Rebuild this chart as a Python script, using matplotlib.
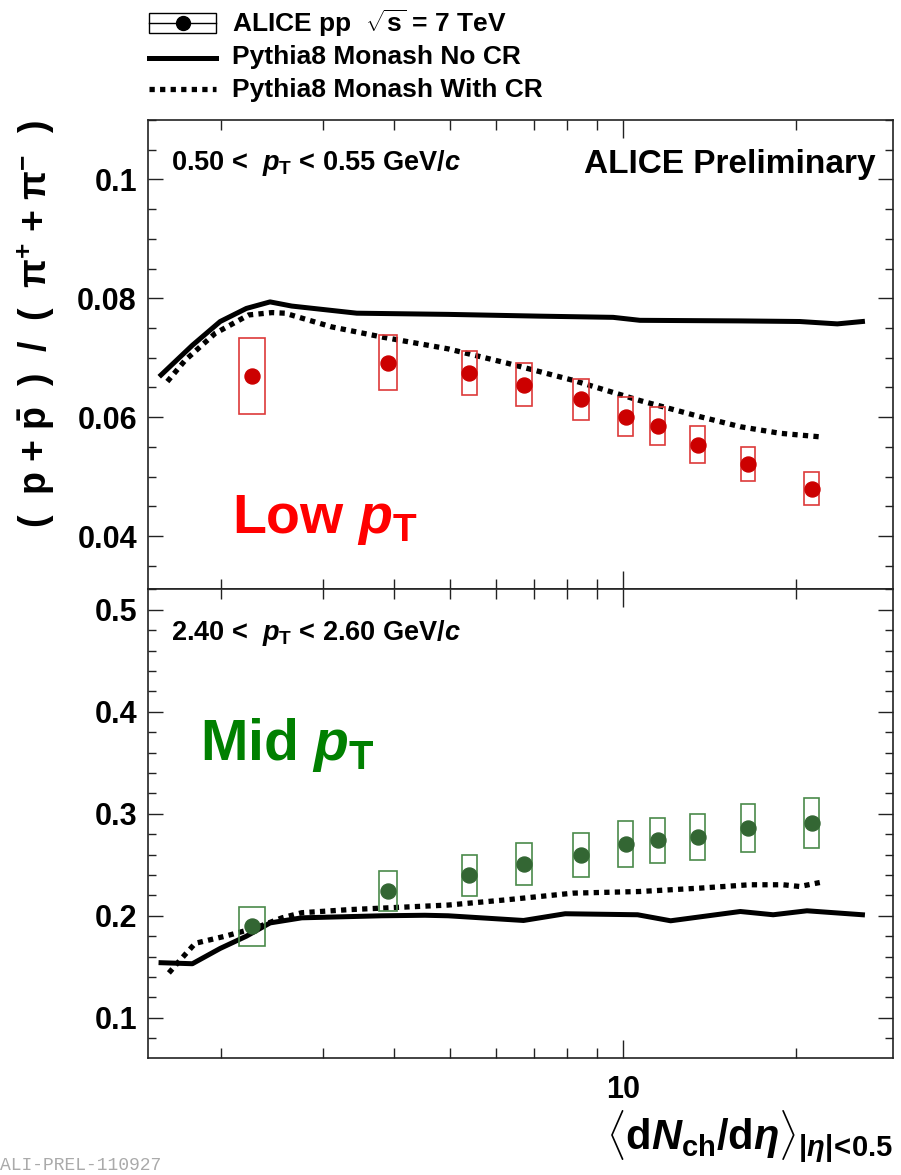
import numpy as np
import matplotlib
matplotlib.use("Agg")
import matplotlib.pyplot as plt
from matplotlib.patches import Rectangle
from matplotlib.lines import Line2D
from matplotlib.ticker import FixedLocator, FixedFormatter, LogLocator, NullFormatter, MultipleLocator

# === fonts (ROOT-like bold Helvetica) ===
plt.rcParams['font.family'] = ['Liberation Sans', 'DejaVu Sans']
plt.rcParams['font.weight'] = 'bold'
plt.rcParams['mathtext.fontset'] = 'custom'
plt.rcParams['mathtext.rm'] = 'Liberation Sans:bold'
plt.rcParams['mathtext.bf'] = 'Liberation Sans:bold'
plt.rcParams['mathtext.sf'] = 'Liberation Sans:bold'
plt.rcParams['mathtext.it'] = 'Liberation Sans:italic:bold'

# === data ===
mult = [2.26, 3.90, 5.40, 6.72, 8.45, 10.1, 11.5, 13.5, 16.5, 21.3]

low_ratio = [0.0670, 0.0692, 0.0675, 0.0655, 0.0630, 0.0601, 0.0586, 0.0554, 0.0521, 0.0480]
low_sys = [0.0064, 0.0046, 0.0037, 0.0036, 0.0035, 0.0033, 0.0032, 0.0031, 0.0029, 0.0027]

mid_ratio = [0.1895, 0.2245, 0.2395, 0.2506, 0.2597, 0.2702, 0.2738, 0.2771, 0.2862, 0.2914]
mid_sys = [0.0193, 0.0196, 0.0203, 0.0205, 0.0215, 0.0223, 0.0225, 0.0227, 0.0237, 0.0245]

# Pythia8 Monash, low pT
low_nocr_x = [1.57, 1.78, 1.99, 2.21, 2.43, 2.65, 3.44, 4.96, 7.17, 9.61, 10.7, 16.0, 20.3, 23.6, 26.1]
low_nocr_y = [0.0671, 0.0721, 0.0761, 0.0783, 0.0794, 0.0787, 0.0775, 0.0773, 0.0770, 0.0768,
              0.0763, 0.0762, 0.0761, 0.0757, 0.0761]
low_cr_x = [1.61, 1.73, 1.95, 2.23, 2.45, 2.58, 3.11, 3.80, 4.96, 6.28, 8.19, 10.7, 13.6, 16.0, 18.75, 22.0]
low_cr_y = [0.0660, 0.0696, 0.0741, 0.0772, 0.0776, 0.0775, 0.0752, 0.0735, 0.0715, 0.0691,
            0.0662, 0.0628, 0.0601, 0.0584, 0.0573, 0.0567]

# Pythia8 Monash, mid pT
mid_nocr_x = [1.57, 1.78, 1.99, 2.21, 2.43, 2.76, 3.80, 4.52, 4.96, 6.71, 7.93, 10.6, 12.1, 16.0, 18.25, 20.9, 26.1]
mid_nocr_y = [0.154, 0.153, 0.168, 0.180, 0.193, 0.198, 0.200, 0.2005, 0.200, 0.1954, 0.2020,
              0.2010, 0.1951, 0.2042, 0.2010, 0.2049, 0.2010]
mid_cr_x = [1.62, 1.71, 1.80, 2.03, 2.29, 2.55, 2.76, 3.33, 4.96, 6.28, 8.19, 10.7, 13.6, 16.6, 19.0, 20.3, 22.0]
mid_cr_y = [0.144, 0.159, 0.173, 0.180, 0.188, 0.198, 0.203, 0.206, 0.2105, 0.2157, 0.2222,
            0.2238, 0.2271, 0.2304, 0.2304, 0.2287, 0.2326]

# box widths in decades (drawing style)
box_w = [0.046, 0.032, 0.027, 0.027, 0.027, 0.026, 0.026, 0.026, 0.026, 0.026]

# === layout (pixels) ===
W, H = 901, 1175
X0, X1 = 148, 893
TOP0, MID, BOT = 120, 589, 1058


def frac_box(x0, x1, ytop, ybot):
    return [x0 / W, 1 - ybot / H, (x1 - x0) / W, (ybot - ytop) / H]


fig = plt.figure(figsize=(W / 100, H / 100), dpi=100)
ax1 = fig.add_axes(frac_box(X0, X1, TOP0, MID))
ax2 = fig.add_axes(frac_box(X0, X1, MID, BOT))


def style_axis(ax, ylim, ymaj, ymin):
    ax.set_xscale('log')
    ax.set_xlim(1.49, 29.5)
    ax.set_ylim(*ylim)
    ax.xaxis.set_major_locator(FixedLocator([10]))
    ax.xaxis.set_minor_locator(LogLocator(base=10, subs=range(2, 10)))
    ax.xaxis.set_minor_formatter(NullFormatter())
    ax.yaxis.set_major_locator(MultipleLocator(ymaj))
    ax.yaxis.set_minor_locator(MultipleLocator(ymin))
    ax.tick_params(axis='both', which='both', direction='in', top=True, right=True,
                   width=1.0, color='#222222', labelsize=22, pad=8)
    ax.tick_params(axis='x', which='major', pad=12)
    ax.tick_params(axis='y', which='major', length=11)
    ax.tick_params(axis='y', which='minor', length=6)
    ax.tick_params(axis='x', which='major', length=13)
    ax.tick_params(axis='x', which='minor', length=7)
    for s in ax.spines.values():
        s.set_linewidth(1.2)
        s.set_color('#222222')


style_axis(ax1, (0.0311, 0.1100), 0.02, 0.005)
ax1.set_yticks([0.04, 0.06, 0.08, 0.1])
ax1.set_yticklabels(['0.04', '0.06', '0.08', '0.1'])
ax1.set_xticklabels([])

style_axis(ax2, (0.0606, 0.5203), 0.1, 0.02)
ax2.set_yticks([0.1, 0.2, 0.3, 0.4, 0.5])
ax2.set_yticklabels(['0.1', '0.2', '0.3', '0.4', '0.5'])
ax2.set_xticks([10])
ax2.set_xticklabels(['10'])

for lab in ax1.get_yticklabels() + ax2.get_yticklabels() + ax2.get_xticklabels():
    lab.set_fontweight('bold')

DOT = dict(color='black', lw=3.8, linestyle=(0, (1.0, 1.0)), dash_capstyle='butt')


def draw_panel(ax, vals, sys, mcol, bcol, nocr_x, nocr_y, cr_x, cr_y):
    ax.plot(nocr_x, nocr_y, color='black', lw=3.6, solid_joinstyle='round', zorder=3)
    ax.plot(cr_x, cr_y, zorder=3, **DOT)
    for m, v, s, w in zip(mult, vals, sys, box_w):
        xl = m * 10 ** (-w / 2)
        xr = m * 10 ** (w / 2)
        ax.add_patch(Rectangle((xl, v - s), xr - xl, 2 * s, fill=False,
                               edgecolor=bcol, lw=1.2, zorder=4))
    ax.plot(mult, vals, 'o', color=mcol, ms=10.8, mec=mcol, zorder=5)


draw_panel(ax1, low_ratio, low_sys, '#cc0000', '#dd3a3a',
           low_nocr_x, low_nocr_y, low_cr_x, low_cr_y)
draw_panel(ax2, mid_ratio, mid_sys, '#336633', '#4a8a4a',
           mid_nocr_x, mid_nocr_y, mid_cr_x, mid_cr_y)

# === overlay in pixel coordinates for texts and legend ===
lay = fig.add_axes([0, 0, 1, 1], zorder=10)
lay.set_xlim(0, W)
lay.set_ylim(H, 0)
lay.axis('off')
lay.patch.set_visible(False)

# legend
lay.add_patch(Rectangle((149, 13), 67, 20, fill=False, edgecolor='black', lw=1.0))
lay.add_line(Line2D([149, 216], [23, 23], color='black', lw=1.0))
lay.plot([182.5], [23], 'o', color='black', ms=10)
lay.add_line(Line2D([149, 216], [58, 58], color='black', lw=3.6))
lay.add_line(Line2D([149, 216], [89, 89], **DOT))
lay.text(232, 23, r"ALICE pp  $\sqrt{\mathrm{s}}$ = 7 TeV", fontsize=19, fontweight='bold',
         va='center', ha='left')
lay.text(232, 57, "Pythia8 Monash No CR", fontsize=19, fontweight='bold', va='center', ha='left')
lay.text(232, 90, "Pythia8 Monash With CR", fontsize=19, fontweight='bold', va='center', ha='left')

# panel texts
lay.text(876, 173, "ALICE Preliminary", fontsize=24, fontweight='bold', ha='right', va='baseline')
lay.text(171, 170, r"0.50 <  $p_{\mathrm{T}}$ < 0.55 GeV/$c$", fontsize=19.5, fontweight='bold',
         ha='left', va='baseline')
lay.text(171, 640, r"2.40 <  $p_{\mathrm{T}}$ < 2.60 GeV/$c$", fontsize=19.5, fontweight='bold',
         ha='left', va='baseline')
lay.text(232, 533, r"Low $p_{\mathrm{T}}$", fontsize=40, color='#ff0000', fontweight='bold',
         ha='left', va='baseline')
lay.text(200, 760, r"Mid $p_{\mathrm{T}}$", fontsize=41, color='#008000', fontweight='bold',
         ha='left', va='baseline')

# axis titles
lay.text(36, 324,
         r"(  p + $\bar{\mathrm{p}}$  )  /  (  $\mathrm{\pi}^{+}$ + $\mathrm{\pi}^{-}$  )",
         fontsize=27, fontweight='bold', rotation=90, ha='center', va='center')
lay.text(893, 1150,
         r"$\langle\mathrm{d}N_{\mathrm{ch}}/\mathrm{d}\eta\rangle_{|\eta|\!<\!0.5}$",
         fontsize=30, ha='right', va='baseline')

# watermark
lay.text(0, 1174, "ALI-PREL-110927", fontsize=13, color='#aaaaaa', family='Liberation Mono',
         fontweight='normal', ha='left', va='bottom')

fig.savefig("out.png", dpi=100)
